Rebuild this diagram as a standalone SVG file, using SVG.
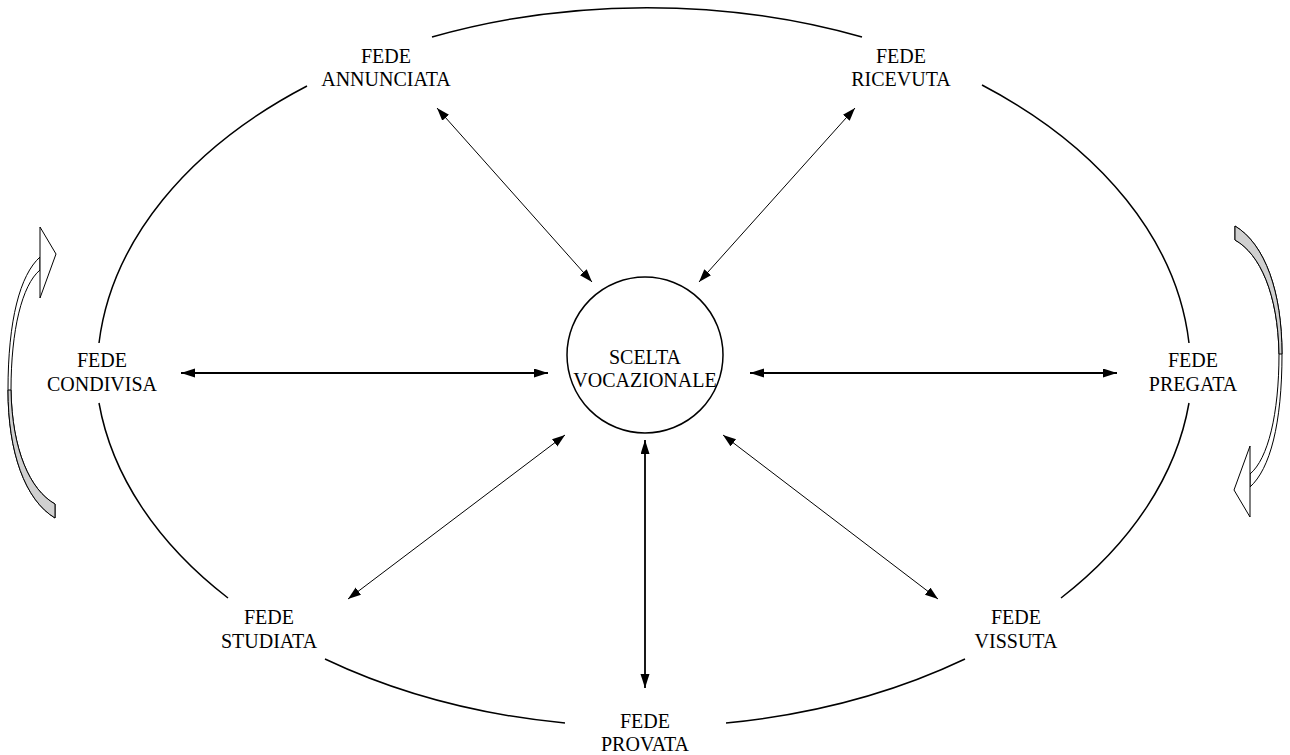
<svg xmlns="http://www.w3.org/2000/svg" width="1290" height="755" viewBox="0 0 1290 755">
<style>
  text { font-family: "Liberation Serif", "Times New Roman", serif; font-size: 20px; fill: #000; text-anchor: middle; }
  .ring { fill: none; stroke: #000; stroke-width: 1.5; }
  .thin { fill: none; stroke: #000; stroke-width: 1; marker-start: url(#ah); marker-end: url(#ah); }
  .thick { fill: none; stroke: #000; stroke-width: 1.8; marker-start: url(#ahb); marker-end: url(#ahb); }
  .band { stroke: #000; stroke-width: 1; }
</style>
<defs>
  <marker id="ah" markerUnits="userSpaceOnUse" markerWidth="14" markerHeight="10" refX="13" refY="4.5" orient="auto-start-reverse">
    <path d="M0,0 L13,4.5 L0,9 Z" fill="#000"/>
  </marker>
  <marker id="ahb" markerUnits="userSpaceOnUse" markerWidth="15" markerHeight="10" refX="14" refY="4.5" orient="auto-start-reverse">
    <path d="M0,0 L14,4.5 L0,9 Z" fill="#000"/>
  </marker>
  <g id="curved">
    <path class="band" fill="#fff" d="M40,257 C20,275 8,320 8,390 C8,452 25,500 55,518 L55,504 C30,490 12,450 11,390 C11,330 22,285 40,270 Z"/>
    <path class="band" fill="#d0d0d0" d="M8,390 C8,452 25,500 55,518 L55,504 C30,490 12,450 11,390 Z"/>
    <path class="band" fill="#fff" d="M40,227 L56,254 L40,298 Z"/>
  </g>
</defs>

<g id="ellipse-ring">
  <path class="ring" d="M432,37 A547,364 0 0 1 862,37"/>
  <path class="ring" d="M982,85 A547,364 0 0 1 1189,343"/>
  <path class="ring" d="M1189,403 A547,364 0 0 1 1061,598"/>
  <path class="ring" d="M965,659 A547,364 0 0 1 726,723"/>
  <path class="ring" d="M565,723 A547,364 0 0 1 325,659"/>
  <path class="ring" d="M228,598 A547,364 0 0 1 99,403"/>
  <path class="ring" d="M99,343 A547,364 0 0 1 307,86"/>
</g>

<g id="cycle-arrows">
  <use href="#curved"/>
  <use href="#curved" transform="rotate(180 645 372)"/>
</g>

<g id="connectors">
  <line class="thin" x1="437" y1="108" x2="592" y2="282"/>
  <line class="thin" x1="855" y1="108" x2="699" y2="282"/>
  <line class="thick" x1="181" y1="373" x2="548" y2="373"/>
  <line class="thick" x1="750" y1="373" x2="1117" y2="373"/>
  <line class="thin" x1="565" y1="435" x2="348" y2="599"/>
  <line class="thin" x1="723" y1="435" x2="938" y2="599"/>
  <line class="thick" x1="645" y1="440" x2="645" y2="688"/>
</g>

<g id="node-center">
  <circle cx="645" cy="355" r="78" fill="none" stroke="#000" stroke-width="1.5"/>
  <text x="645" y="364">SCELTA</text>
  <text x="645" y="387">VOCAZIONALE</text>
</g>
<g id="node-annunciata">
  <text x="386" y="63">FEDE</text>
  <text x="386" y="86">ANNUNCIATA</text>
</g>
<g id="node-ricevuta">
  <text x="901" y="63">FEDE</text>
  <text x="901" y="86">RICEVUTA</text>
</g>
<g id="node-condivisa">
  <text x="102" y="367">FEDE</text>
  <text x="102" y="391">CONDIVISA</text>
</g>
<g id="node-pregata">
  <text x="1193" y="367">FEDE</text>
  <text x="1193" y="391">PREGATA</text>
</g>
<g id="node-studiata">
  <text x="269" y="624">FEDE</text>
  <text x="269" y="648">STUDIATA</text>
</g>
<g id="node-vissuta">
  <text x="1016" y="624">FEDE</text>
  <text x="1016" y="648">VISSUTA</text>
</g>
<g id="node-provata">
  <text x="645" y="728">FEDE</text>
  <text x="645" y="751">PROVATA</text>
</g>
</svg>
